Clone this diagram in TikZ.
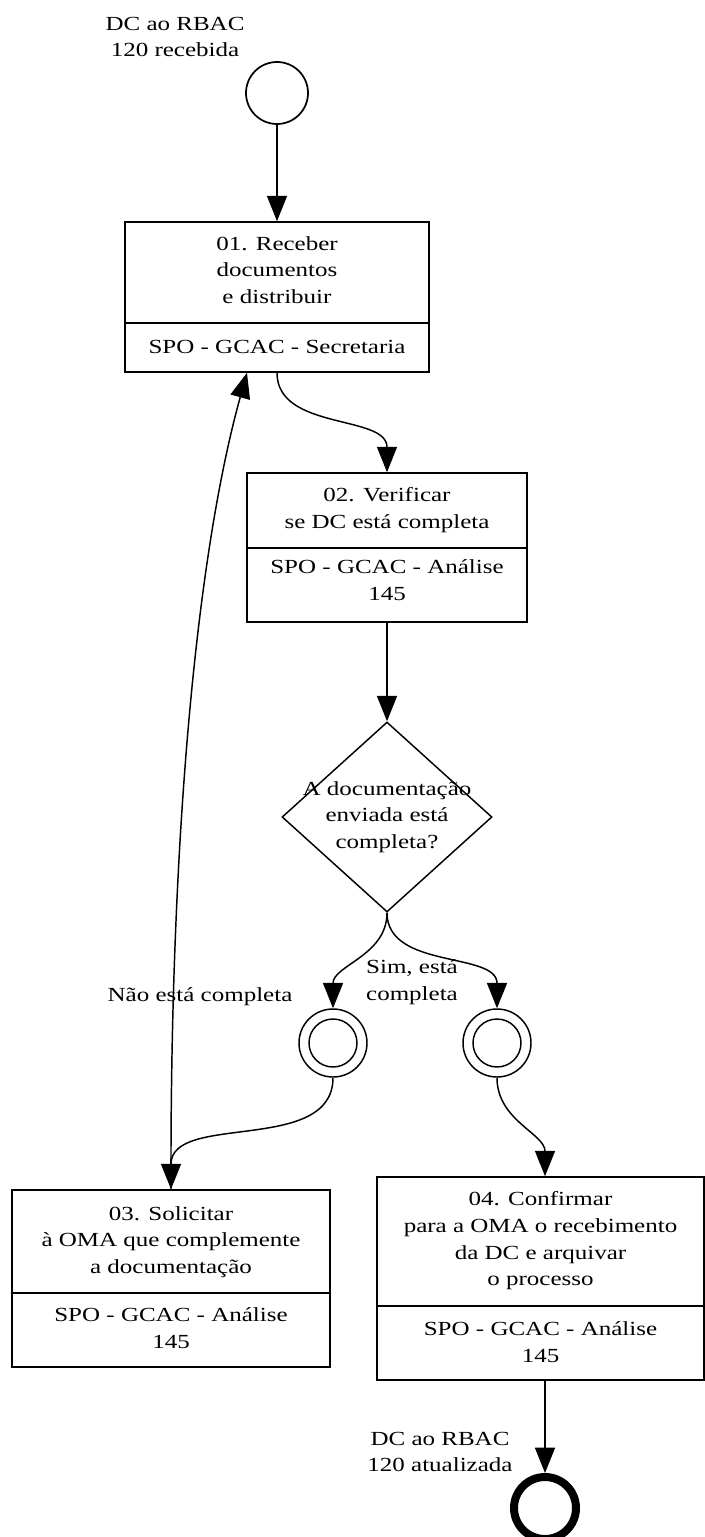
\documentclass[tikz,border=0pt]{standalone}
\usepackage{fontspec}
\setmainfont{Liberation Serif}[FakeStretch=1.25]
\usetikzlibrary{shapes.geometric,arrows.meta}
\begin{document}
\begin{tikzpicture}[x=0.75pt,y=-0.75pt,
  box/.style={draw, line width=1.2pt, inner sep=0pt},
  txt/.style={align=center, inner sep=0pt, font=\fontsize{15pt}{20pt}\selectfont},
  conn/.style={line width=1.1pt, -{Triangle[length=19pt,width=15pt]}},
  evt/.style={circle, draw, line width=1.3pt, inner sep=0pt},
]
\useasboundingbox (0,0) rectangle (705,1537);

% boxes
\node[box, minimum width=228pt, minimum height=112.5pt] (b1) at (277,297) {};
\node[box, minimum width=210pt, minimum height=111.75pt] (b2) at (387,547.5) {};
\node[box, minimum width=238.5pt, minimum height=132.75pt] (b3) at (171,1278.5) {};
\node[box, minimum width=245.25pt, minimum height=152.25pt] (b4) at (540.5,1278.5) {};
\draw[line width=1.2pt] (b1.west |- 0,323) -- (b1.east |- 0,323);
\draw[line width=1.2pt] (b2.west |- 0,548) -- (b2.east |- 0,548);
\draw[line width=1.2pt] (b3.west |- 0,1293) -- (b3.east |- 0,1293);
\draw[line width=1.2pt] (b4.west |- 0,1306) -- (b4.east |- 0,1306);

% box texts
\node[txt] (t1) at (277,270) {01. Receber\\documentos\\e distribuir};
\node[txt] (r1) at (277,347) {SPO - GCAC - Secretaria};
\node[txt] (t2) at (387,510) {02. Verificar\\se DC está completa};
\node[txt] (r2) at (387,580) {SPO - GCAC - Análise\\145};
\node[txt] (t3) at (171,1242) {03. Solicitar\\à OMA que complemente\\a documentação};
\node[txt] (r3) at (171,1328) {SPO - GCAC - Análise\\145};
\node[txt] (t4) at (540.5,1241) {04. Confirmar\\para a OMA o recebimento\\da DC e arquivar\\o processo};
\node[txt] (r4) at (540.5,1342) {SPO - GCAC - Análise\\145};

% gateway
\node[diamond, draw, line width=1.1pt, minimum width=157.5pt, minimum height=142.5pt, inner sep=0pt, aspect=1.105] (d) at (387,817) {};
\node[txt] (dt) at (387,817) {A documentação\\enviada está\\completa?};

% events
\node[evt, minimum size=46.5pt] (s) at (277,93) {};
\node[txt] (sl) at (175,37) {DC ao RBAC\\120 recebida};
\node[evt, line width=1.1pt, minimum size=51pt] (m1) at (333,1043) {};
\node[evt, line width=1.1pt, minimum size=36pt] (m1i) at (333,1043) {};
\node[evt, line width=1.1pt, minimum size=51pt] (m2) at (497,1043) {};
\node[evt, line width=1.1pt, minimum size=36pt] (m2i) at (497,1043) {};
\node[evt, line width=6pt, minimum size=46.5pt] (e) at (545,1508) {};
\node[txt] (el) at (440,1452) {DC ao RBAC\\120 atualizada};

% labels
\node[txt] (ln) at (200,997) {Não está completa};
\node[txt] (ls) at (412,982) {Sim, está\\completa};

% connectors
\draw[conn] (s.south) -- (s.south |- b1.north);
\draw[conn] (b1.south) to[out=-90,in=90] (b2.north);
\draw[conn] (b2.south) -- (d.north);
\draw[conn] (d.south) to[out=-90,in=90] (m1.north);
\draw[conn] (d.south) to[out=-90,in=90] (m2.north);
\draw[conn] (m1.south) to[out=-90,in=90] (b3.north);
\draw[conn] (m2.south) to[out=-90,in=90] (e.north |- b4.north);
\draw[conn] (e.north |- b4.south) -- (e.north);
\draw[conn] (b3.north) .. controls (170,850) and (195,560) .. ([xshift=-22.5pt]b1.south);
\end{tikzpicture}
\end{document}
